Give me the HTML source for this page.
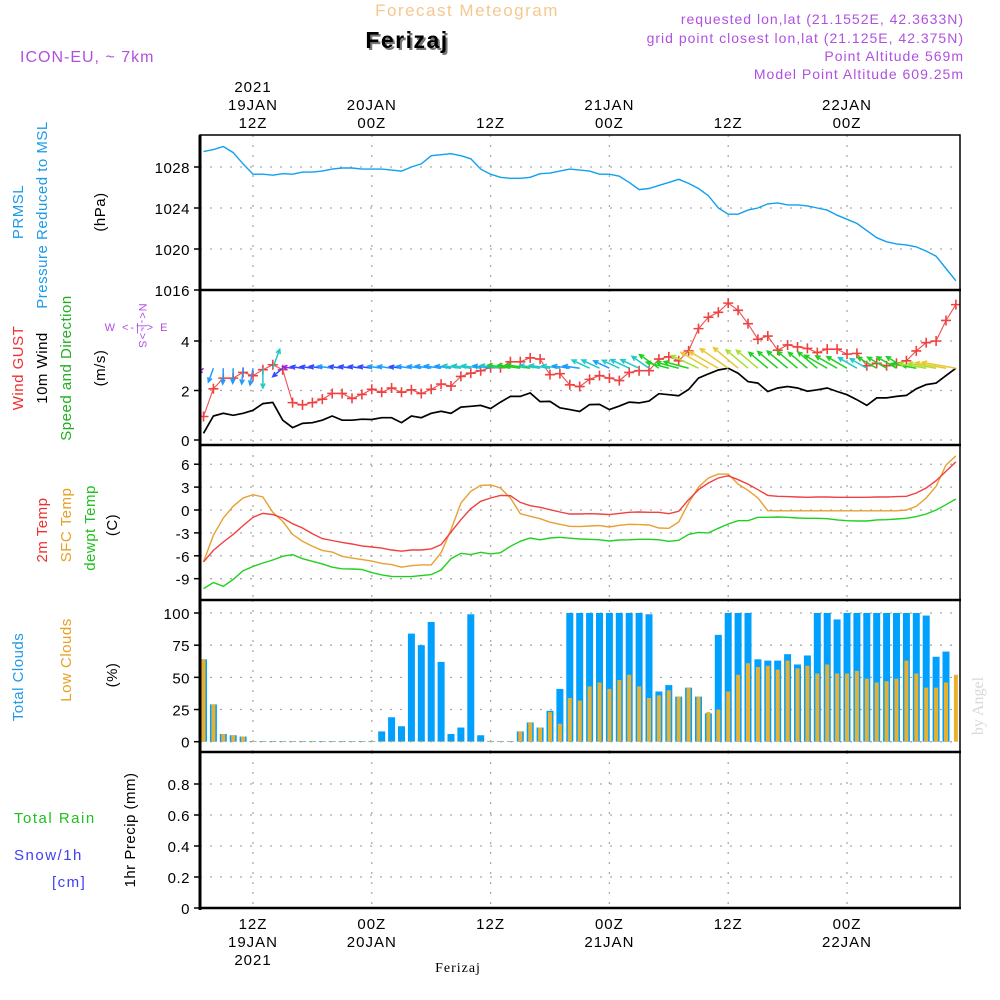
<!DOCTYPE html>
<html><head><meta charset="utf-8">
<style>
body{margin:0;background:#fff;}
svg{display:block;font-family:"Liberation Sans",sans-serif;}
.tk{font-size:15px;fill:#000;text-anchor:end;letter-spacing:0.5px}
.tl{font-size:15px;fill:#000;text-anchor:middle;letter-spacing:1px}
.lab{font-size:15px;letter-spacing:0.5px}
</style></head>
<body>
<svg id="chart" width="1000" height="1000" viewBox="0 0 1000 1000" xmlns="http://www.w3.org/2000/svg">
<defs><clipPath id="plotclip"><rect x="201" y="135" width="759" height="773"/></clipPath></defs>
<rect width="1000" height="1000" fill="#fff"/>
<text x="467" y="16" font-size="17" fill="#f5c890" text-anchor="middle" letter-spacing="1.5">Forecast Meteogram</text>
<text x="409" y="50" font-size="23" font-weight="bold" fill="#777" text-anchor="middle" letter-spacing="1.5">Ferizaj</text>
<text x="407" y="48" font-size="23" font-weight="bold" fill="#000" text-anchor="middle" letter-spacing="1.5">Ferizaj</text>
<text x="20" y="62" font-size="16" fill="#b050e0" letter-spacing="1">ICON-EU, ~ 7km</text>
<g font-size="14" fill="#b050e0" text-anchor="end" letter-spacing="1">
<text x="964" y="24">requested lon,lat (21.1552E, 42.3633N)</text>
<text x="964" y="43">grid point closest lon,lat (21.125E, 42.375N)</text>
<text x="964" y="61">Point Altitude 569m</text>
<text x="964" y="79">Model Point Altitude 609.25m</text>
</g>
<g id="grid"></g>
<g id="marks" clip-path="url(#plotclip)"></g>
<g id="axes"></g>
<g class="lab">
<text transform="translate(23,212) rotate(-90)" text-anchor="middle" fill="#1e9be8">PRMSL</text>
<text transform="translate(47,215) rotate(-90)" text-anchor="middle" fill="#1e9be8">Pressure Reduced to MSL</text>
<text transform="translate(105,212) rotate(-90)" text-anchor="middle" fill="#000">(hPa)</text>
<text transform="translate(23,368) rotate(-90)" text-anchor="middle" fill="#f03030">Wind GUST</text>
<text transform="translate(47,368) rotate(-90)" text-anchor="middle" fill="#000">10m Wind</text>
<text transform="translate(71,368) rotate(-90)" text-anchor="middle" fill="#20b020">Speed and Direction</text>
<text transform="translate(105,368) rotate(-90)" text-anchor="middle" fill="#000">(m/s)</text>
<text transform="translate(139,326) rotate(90)" text-anchor="middle" fill="#b050e0" font-size="11" letter-spacing="1">N&lt;-|-&gt;S</text>
<text x="137" y="331" text-anchor="middle" fill="#b050e0" font-size="11" letter-spacing="2">W &lt;-|-&gt; E</text>
<text transform="translate(47,530) rotate(-90)" text-anchor="middle" fill="#f03030">2m Temp</text>
<text transform="translate(71,525) rotate(-90)" text-anchor="middle" fill="#e8a020">SFC Temp</text>
<text transform="translate(95,528) rotate(-90)" text-anchor="middle" fill="#20c020">dewpt Temp</text>
<text transform="translate(117,525) rotate(-90)" text-anchor="middle" fill="#000">(C)</text>
<text transform="translate(23,677) rotate(-90)" text-anchor="middle" fill="#1e9be8">Total Clouds</text>
<text transform="translate(71,660) rotate(-90)" text-anchor="middle" fill="#e8a020">Low Clouds</text>
<text transform="translate(117,675) rotate(-90)" text-anchor="middle" fill="#000">(%)</text>
<text x="14" y="823" fill="#20c020" letter-spacing="1.5">Total  Rain</text>
<text x="14" y="860" fill="#4040f0" letter-spacing="1.5">Snow/1h</text>
<text x="52" y="887" fill="#4040f0" letter-spacing="1.5">[cm]</text>
<text transform="translate(135,830) rotate(-90)" text-anchor="middle" fill="#000">1hr Precip (mm)</text>
</g>
<text x="458" y="972" font-family="Liberation Serif, serif" font-size="14" text-anchor="middle" letter-spacing="1">Ferizaj</text>
<text transform="translate(983,706) rotate(-90)" font-family="Liberation Serif, serif" font-size="16" fill="#d8d8d8" text-anchor="middle">by Angel</text>
</svg>
<script>
const hours = [];
for (let h = -5; h <= 71; h++) hours.push(h);
const pressure = [1029.5,1029.7,1030.0,1029.4,1028.3,1027.3,1027.3,1027.2,1027.35,1027.3,1027.5,1027.5,1027.6,1027.8,1027.9,1027.9,1027.8,1027.8,1027.8,1027.7,1027.6,1028.0,1028.3,1029.1,1029.2,1029.3,1029.1,1028.8,1027.8,1027.3,1027.0,1026.9,1026.9,1027.0,1027.35,1027.4,1027.6,1027.8,1027.7,1027.6,1027.3,1027.3,1027.1,1026.5,1025.8,1025.9,1026.2,1026.5,1026.8,1026.4,1025.9,1025.2,1024.0,1023.4,1023.4,1023.8,1024.0,1024.4,1024.5,1024.3,1024.3,1024.2,1024.0,1023.8,1023.3,1022.9,1022.5,1021.8,1021.1,1020.7,1020.5,1020.4,1020.2,1019.8,1019.3,1018.1,1016.9];
const gust = [0.95,2.07,2.5,2.5,2.73,2.6,2.84,3.04,2.84,1.51,1.42,1.51,1.65,1.88,1.88,1.68,1.84,2.05,1.93,2.1,1.93,2.03,1.88,2.05,2.26,2.18,2.57,2.7,2.8,2.92,2.92,3.16,3.16,3.32,3.27,2.64,2.68,2.23,2.16,2.45,2.6,2.5,2.4,2.73,2.8,2.8,3.27,3.36,3.2,3.6,4.5,4.96,5.16,5.53,5.24,4.7,4.07,4.2,3.63,3.84,3.76,3.7,3.53,3.67,3.67,3.47,3.5,3.0,3.1,3.0,3.1,3.2,3.6,3.93,4.0,4.83,5.47];
const wind = [0.27,0.97,1.08,1.0,1.08,1.2,1.47,1.52,0.8,0.5,0.67,0.7,0.8,0.97,0.8,0.8,0.84,0.83,0.9,0.9,0.7,0.97,0.9,1.08,1.16,1.08,1.33,1.36,1.4,1.27,1.53,1.76,1.76,1.9,1.55,1.56,1.3,1.23,1.15,1.43,1.44,1.23,1.37,1.53,1.5,1.57,1.87,1.83,1.79,2.04,2.5,2.67,2.83,2.9,2.7,2.36,2.3,1.96,2.1,2.16,2.1,1.97,2.03,2.1,1.96,1.83,1.63,1.4,1.7,1.7,1.76,1.8,2.07,2.24,2.3,2.6,2.9];
const windDir = [135,110,92,92,95,100,90,-70,140,188,188,188,188,188,188,188,188,188,188,188,188,188,188,188,188,188,188,188,188,188,188,188,188,188,188,188,188,188,188,205,205,205,205,205,205,215,215,195,195,195,205,210,210,215,220,220,220,220,220,220,220,220,220,210,210,210,210,210,210,210,210,210,190,190,190,190,190];
const t2m = [-6.8,-5.3,-4.2,-3.2,-2.05,-0.96,-0.44,-0.6,-1.05,-1.8,-2.36,-3.1,-3.75,-4.0,-4.24,-4.45,-4.7,-4.85,-5.0,-5.24,-5.4,-5.24,-5.24,-5.1,-4.54,-2.9,-1.27,0.17,1.14,1.57,1.92,1.88,1.0,0.57,0.35,0.04,-0.26,-0.52,-0.52,-0.48,-0.52,-0.6,-0.44,-0.3,-0.26,-0.3,-0.3,-0.48,-0.17,1.35,2.66,3.54,4.2,4.5,3.97,3.4,2.66,1.92,1.8,1.75,1.7,1.66,1.7,1.7,1.66,1.66,1.66,1.66,1.7,1.7,1.75,1.8,2.23,2.88,3.84,5.07,6.3];
const sfcTemp = [-6.8,-3.3,-1.05,0.48,1.57,2.0,1.7,-0.3,-1.5,-3.2,-4.1,-4.76,-5.3,-5.5,-6.07,-6.3,-6.5,-6.7,-7.0,-7.16,-7.5,-7.3,-7.2,-7.2,-5.6,-2.6,0.9,2.45,3.23,3.28,2.88,1.57,-0.48,-0.83,-1.14,-1.6,-1.88,-2.14,-2.18,-2.1,-2.05,-2.23,-2.0,-1.88,-1.92,-1.96,-2.36,-2.4,-1.57,0.92,3.0,4.2,4.7,4.7,3.4,2.58,1.57,-0.09,-0.1,-0.1,-0.1,-0.1,-0.1,-0.1,-0.1,-0.1,-0.1,-0.1,-0.1,-0.1,-0.1,0.0,0.48,1.57,3.1,5.9,7.1];
const dewpt = [-10.3,-9.5,-10.0,-9.1,-7.95,-7.4,-6.94,-6.55,-6.07,-5.85,-6.38,-6.72,-7.07,-7.5,-7.7,-7.73,-7.8,-8.2,-8.5,-8.7,-8.73,-8.73,-8.6,-8.47,-7.86,-6.38,-5.68,-5.85,-5.55,-5.76,-5.6,-4.76,-4.1,-3.67,-3.9,-3.67,-3.58,-3.7,-3.8,-3.84,-3.9,-4.06,-3.93,-3.9,-3.84,-3.84,-3.9,-4.1,-3.97,-3.2,-2.93,-3.0,-2.4,-1.83,-1.4,-1.4,-0.96,-0.96,-0.92,-0.96,-1.05,-1.09,-1.09,-1.14,-1.3,-1.4,-1.44,-1.44,-1.3,-1.27,-1.18,-1.09,-0.87,-0.52,0,0.7,1.44];
const totalClouds = [64,29,6,5,4,0.5,0.5,0.5,0.5,0.5,0.5,0.5,0.5,0.5,0.5,0.5,0.5,0.5,8,19,12,84,75,93,62,6,11,99,5,0.5,0.5,0.5,8,15,11,24,41,100,100,100,100,100,100,100,100,99,39,44,35,42,35,22,83,100,100,100,64,63,63,68,60,67,100,100,95,100,100,100,100,100,100,100,100,98,66,70];
const lowClouds = [64,29,6,5,4,0.5,0.5,0.5,0.5,0.5,0.5,0.5,0.5,0.5,0.5,0.5,0.5,0.5,0.5,0.5,0.5,0.5,0.5,0.5,0.5,0.5,0.5,0.5,0.5,0.5,0.5,0.5,8,15,11,23,14,34,32,43,46,41,48,52,43,34,36,40,35,42,35,23,25,39,52,61,58,59,56,63,57,59,53,60,53,53,55,49,46,47,49,63,53,42,42,46,52];
const precip = hours.map(() => 0);
const pTicks = [1016,1020,1024,1028];
const wTicks = [0,2,4];
const tTicks = [-9,-6,-3,0,3,6];
const cTicks = [0,25,50,75,100];
const rTicks = [0,0.2,0.4,0.6,0.8];
const timeTicks = [0,12,24,36,48,60];
const topLabels = [["2021","19JAN","12Z"],["","20JAN","00Z"],["","","12Z"],["","21JAN","00Z"],["","","12Z"],["","22JAN","00Z"]];
const botLabels = [["12Z","19JAN","2021"],["00Z","20JAN",""],["12Z","",""],["00Z","21JAN",""],["12Z","",""],["00Z","22JAN",""]];

const NS = "http://www.w3.org/2000/svg";
const L = 200, R = 960;
const X = h => 253 + 9.9 * h;
const yP = v => 167 - (v - 1028) * 10.25;
const yW = v => 440 - v * 24.75;
const yT = v => 510 - v * 7.63;
const yC = v => 741.7 - v * 1.287;
const yR = v => 908 - v * 155;
const panels = [[135,290],[290,445],[445,600],[600,752],[752,908]];
function mk(tag, attrs, parent) {
  const e = document.createElementNS(NS, tag);
  for (const k in attrs) e.setAttribute(k, attrs[k]);
  parent.appendChild(e);
  return e;
}
const grid = document.getElementById('grid'), marks = document.getElementById('marks'), axes = document.getElementById('axes');
function hgrid(ticks, yf, name, fmt) {
  ticks.forEach(t => {
    const y = yf(t);
    const g = mk('line', {x1: L, x2: R, y1: y, y2: y, stroke: '#aaa', 'stroke-width': 1.3, 'stroke-dasharray': '2,8'}, grid);
    
    
    const tk = mk('line', {x1: 194, x2: L, y1: y, y2: y, stroke: '#000', 'stroke-width': 1.5}, axes);
    
    
    const tx = mk('text', {x: 190, y: y + 6, class: 'tk'}, axes);
    tx.textContent = fmt ? fmt(t) : t;
    
    
  });
}
hgrid(pTicks, yP, 'pressure');
hgrid(wTicks, yW, 'wind');
hgrid(tTicks, yT, 'temp');
hgrid(cTicks, yC, 'cloud');
hgrid(rTicks, yR, 'precip', t => t === 0 ? '0' : t.toFixed(1));
timeTicks.forEach((h, i) => {
  const x = X(h);
  panels.forEach(p => {
    const g = mk('line', {x1: x, x2: x, y1: p[0], y2: p[1], stroke: '#aaa', 'stroke-width': 1.3, 'stroke-dasharray': '2,8'}, grid);
    
    
  });
  topLabels[i].forEach((s, j) => {
    if (!s) return;
    const t = mk('text', {x: x, y: 92 + j * 18, class: 'tl'}, axes);
    t.textContent = s;
    
    
  });
  botLabels[i].forEach((s, j) => {
    if (!s) return;
    const t = mk('text', {x: x, y: 929 + j * 18, class: 'tl'}, axes);
    t.textContent = s;
    
    
  });
});
hours.forEach((h, i) => {
  const x = X(h) - 3.5;
  const b = mk('rect', {x: x, y: yC(totalClouds[i]), width: 7, height: yC(0) - yC(totalClouds[i]), fill: '#00a0ff'}, marks);
  
  
  const b2 = mk('rect', {x: x + 1.5, y: yC(lowClouds[i]), width: 4, height: yC(0) - yC(lowClouds[i]), fill: '#e8b030'}, marks);
  
  
});
function line(vals, yf, color, name, w) {
  const d = vals.map((v, i) => (i ? 'L' : 'M') + X(hours[i]).toFixed(1) + ',' + yf(v).toFixed(1)).join('');
  const p = mk('path', {d: d, fill: 'none', stroke: color, 'stroke-width': w || 1.4}, marks);
  
  
}
line(pressure, yP, '#10a0f0', 'pressure-line');
line(dewpt, yT, '#20d020', 'dewpoint-line');
line(sfcTemp, yT, '#e8a030', 'sfc-temp-line');
line(t2m, yT, '#f04040', 't2m-line');
line(wind, yW, '#000', 'wind-speed-line', 1.7);
line(gust, yW, '#f05050', 'gust-line', 1.1);
line(precip, yR, '#20c020', 'precip-line', 1);
gust.forEach((v, i) => {
  const x = X(hours[i]), y = yW(v);
  const c = mk('path', {d: `M${x-5},${y}H${x+5}M${x},${y-5}V${y+5}`, stroke: '#f04040', 'stroke-width': 1.6}, marks);
  
  
});
function spdColor(v) {
  if (v < 0.6) return '#a020f0';
  if (v < 0.9) return '#3048ff';
  if (v < 1.3) return '#1e9bff';
  if (v < 1.7) return '#20c8c8';
  if (v < 2.2) return '#20d020';
  if (v < 2.6) return '#a8e030';
  return '#e8c830';
}
wind.forEach((v, i) => {
  const x0 = X(hours[i]), y0 = yW(2.9);
  const len = 5 + v * 10, a = windDir[i] * Math.PI / 180;
  const x1 = x0 + len * Math.cos(a), y1 = y0 + len * Math.sin(a);
  const hl = 5, a1 = a + Math.PI - 0.45, a2 = a + Math.PI + 0.45;
  const d = `M${x0},${y0}L${x1},${y1}M${x1 + hl*Math.cos(a1)},${y1 + hl*Math.sin(a1)}L${x1},${y1}L${x1 + hl*Math.cos(a2)},${y1 + hl*Math.sin(a2)}`;
  const ar = mk('path', {d: d, fill: 'none', stroke: spdColor(v), 'stroke-width': 1.5}, marks);
  
  
});
const fr = mk('rect', {x: L, y: 135, width: R - L, height: 773, fill: 'none', stroke: '#000', 'stroke-width': 1.5}, axes);


const la = mk('line', {x1: L, x2: L, y1: 135, y2: 910, stroke: '#000', 'stroke-width': 3}, axes);


[290,445,600,752,908].forEach(y => {
  const s = mk('line', {x1: L - 1, x2: R + 1, y1: y, y2: y, stroke: '#000', 'stroke-width': 2.5}, axes);
  
  
});
</script>
</body></html>
